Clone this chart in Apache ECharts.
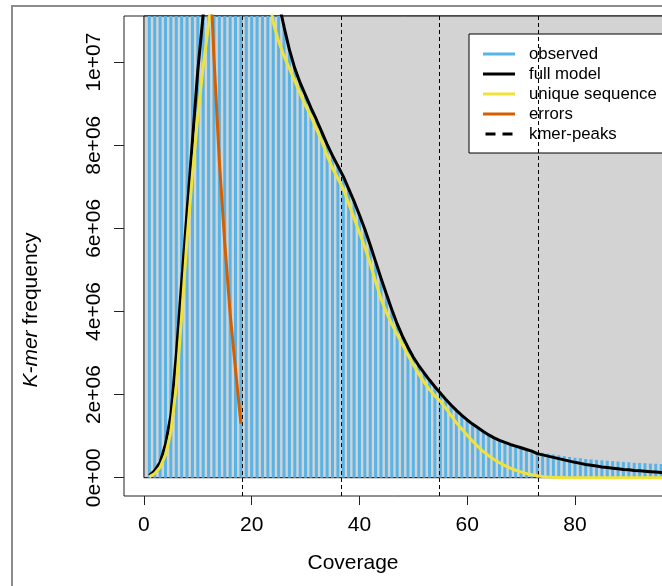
<!DOCTYPE html>
<html>
<head>
<meta charset="utf-8">
<script src="https://cdn.jsdelivr.net/npm/echarts@6/dist/echarts.min.js"></script>
<style>
  html, body { margin: 0; padding: 0; background: #fff; }
  #chart { width: 662px; height: 586px; }
</style>
</head>
<body>
<div id="chart"></div>
<script>
// k-mer histogram (millions of k-mers per coverage 1..100)
var observed = [
  95, 52, 38, 31, 27, 25, 23.5, 22.5, 21.5, 20.5,
  19.5, 19, 18.6, 18, 17.6, 17.4, 17.3, 17.3, 17, 16.3,
  15.4, 14.3, 13.2, 12.3, 11.5, 10.9, 10.32, 9.86, 9.5, 9.2,
  8.9, 8.6, 8.33, 8.03, 7.76, 7.5, 7.24, 6.96, 6.64, 6.33,
  5.97, 5.6, 5.21, 4.8, 4.43, 4.04, 3.71, 3.4, 3.15, 2.9,
  2.71, 2.52, 2.34, 2.19, 2.05, 1.89, 1.76, 1.62, 1.5, 1.39,
  1.3, 1.2, 1.12, 1.04, 0.97, 0.91, 0.86, 0.81, 0.77, 0.73,
  0.69, 0.66, 0.63, 0.6, 0.58, 0.56, 0.54, 0.52, 0.5, 0.48,
  0.47, 0.45, 0.44, 0.43, 0.42, 0.41, 0.4, 0.39, 0.38, 0.37,
  0.36, 0.355, 0.35, 0.34, 0.335, 0.33, 0.32, 0.315, 0.31, 0.3
];
var fullModel = [
  0.05, 0.17, 0.37, 0.8, 1.5, 2.95, 4.7, 6.4, 8.1, 9.8,
  11.15, 12.5, 13.8, 14.9, 15.8, 16.4, 16.8, 17, 16.8, 16.2,
  15.3, 14.2, 13.1, 12.2, 11.45, 10.85, 10.3, 9.85, 9.5, 9.2,
  8.9, 8.62, 8.32, 8.02, 7.75, 7.5, 7.25, 6.95, 6.65, 6.32,
  5.98, 5.6, 5.2, 4.8, 4.42, 4.05, 3.7, 3.4, 3.14, 2.9,
  2.7, 2.52, 2.35, 2.19, 2.04, 1.89, 1.75, 1.62, 1.5, 1.39,
  1.29, 1.2, 1.11, 1.03, 0.96, 0.9, 0.85, 0.8, 0.76, 0.72,
  0.68, 0.64, 0.58, 0.55, 0.52, 0.49, 0.46, 0.43, 0.4, 0.37,
  0.345, 0.32, 0.3, 0.28, 0.26, 0.245, 0.23, 0.215, 0.2, 0.19,
  0.175, 0.165, 0.155, 0.145, 0.135, 0.125, 0.118, 0.11, 0.104, 0.098
];
var uniqueSeq = [
  0.02, 0.1, 0.25, 0.55, 1.1, 2.2, 3.9, 5.75, 7.3, 8.7,
  9.9, 10.9, 12, 13.1, 14.1, 14.9, 15.4, 15.6, 15.4, 14.8,
  13.9, 12.8, 11.75, 10.95, 10.5, 10.15, 9.85, 9.55, 9.25, 8.95,
  8.7, 8.4, 8.1, 7.75, 7.45, 7.2, 6.95, 6.6, 6.25, 5.9,
  5.55, 5.15, 4.72, 4.3, 3.98, 3.7, 3.45, 3.2, 2.95, 2.72,
  2.5, 2.3, 2.12, 1.97, 1.84, 1.68, 1.5, 1.32, 1.17, 1.02,
  0.88, 0.75, 0.63, 0.53, 0.44, 0.36, 0.29, 0.23, 0.18, 0.14,
  0.1, 0.07, 0.045, 0.028, 0.017, 0.01, 0.006, 0.003, 0.001, 0,
  0, 0, 0, 0, 0, 0, 0, 0, 0, 0,
  0, 0, 0, 0, 0, 0, 0, 0, 0, 0
];
var errors = [
  160, 110, 80, 62, 50, 41, 34, 28.5, 24, 20,
  16.3, 13.1, 10.1, 7.6, 5.65, 3.95, 2.6, 1.3
];
var kmerPeaks = [18.3, 36.6, 54.9, 73.2];

var xTicks = [0, 20, 40, 60, 80, 100];
var yTicks = [0, 2e6, 4e6, 6e6, 8e6, 1e7];
var yTickLabels = ['0e+00', '2e+06', '4e+06', '6e+06', '8e+06', '1e+07'];

var FONT = "'Liberation Sans', Arial, Helvetica, sans-serif";
var M = 1e6;

function pairs(arr) {
  return arr.map(function (v, i) { return [i + 1, v * M]; });
}

var rectTop = Math.max.apply(null, observed) * M * 1.1;
var rectRight = observed.length * 1.1;

var chart = echarts.init(document.getElementById('chart'), null, { renderer: 'canvas' });

chart.setOption({
  animation: false,
  backgroundColor: '#fff',
  grid: {
    left: 124, top: 16, right: -20.7, bottom: 90,
    show: true, borderColor: '#222', borderWidth: 1,
    backgroundColor: 'transparent',
    outerBoundsMode: 'none'
  },
  xAxis: {
    type: 'value', min: -3.7, max: 100,
    axisLine: { show: false, onZero: false },
    splitLine: { show: false },
    axisTick: { show: true, length: 9, lineStyle: { color: '#222', width: 1 }, customValues: xTicks },
    axisLabel: { customValues: xTicks, margin: 19, fontSize: 21, color: '#000', fontFamily: FONT }
  },
  yAxis: {
    type: 'value', min: -0.44e6, max: 11.11e6,
    axisLine: { show: false, onZero: false },
    splitLine: { show: false },
    axisTick: { show: true, length: 10, lineStyle: { color: '#222', width: 1 }, customValues: yTicks },
    axisLabel: {
      customValues: yTicks, rotate: 90, margin: 19, fontSize: 21, color: '#000', fontFamily: FONT,
      formatter: function (v) {
        var i = yTicks.indexOf(v);
        return i >= 0 ? yTickLabels[i] : '';
      }
    }
  },
  legend: {
    orient: 'vertical', left: 469, top: 34,
    backgroundColor: '#fff', borderColor: '#000', borderWidth: 1, borderRadius: 0,
    padding: [10, 70, 9, 14],
    itemWidth: 32, itemHeight: 3, itemGap: 0,
    selectedMode: false,
    textStyle: { fontSize: 16.8, lineHeight: 20, color: '#000', fontFamily: FONT, padding: [0, 0, 0, 9] },
    data: [
      { name: 'observed', icon: 'rect' },
      { name: 'full model', icon: 'rect' },
      { name: 'unique sequence', icon: 'rect' },
      { name: 'errors', icon: 'rect' },
      { name: 'kmer-peaks', icon: 'path://M0,0h10v3h-10zM17,0h10v3h-10z' }
    ]
  },
  graphic: [
    { type: 'rect', silent: true, z: 100,
      shape: { x: 12, y: 6, width: 720, height: 640 },
      style: { fill: 'none', stroke: '#8c8c8c', lineWidth: 2 } },
    { type: 'text', silent: true, x: 31, y: 310, rotation: Math.PI / 2,
      style: {
        text: '{i|K-mer} frequency', fontSize: 21, fontFamily: FONT, fill: '#000',
        align: 'center', verticalAlign: 'middle',
        rich: { i: { fontStyle: 'italic', fontSize: 21, fontFamily: FONT, fill: '#000' } }
      } },
    { type: 'text', silent: true, x: 353, y: 563,
      style: { text: 'Coverage', fontSize: 21, fontFamily: FONT, fill: '#000',
        align: 'center', verticalAlign: 'middle' } }
  ],
  series: [
    {
      name: 'background', type: 'custom', z: 1, silent: true,
      data: [[0, 0, rectRight, rectTop]],
      renderItem: function (params, api) {
        var p0 = api.coord([api.value(0), api.value(1)]);
        var p1 = api.coord([api.value(2), api.value(3)]);
        var shape = echarts.graphic.clipRectByRect(
          { x: p0[0], y: p1[1], width: p1[0] - p0[0], height: p0[1] - p1[1] },
          { x: params.coordSys.x, y: params.coordSys.y, width: params.coordSys.width, height: params.coordSys.height }
        );
        if (!shape) return;
        return { type: 'rect', shape: shape, style: { fill: '#d3d3d3', stroke: '#000', lineWidth: 1 } };
      }
    },
    {
      name: 'observed', type: 'bar', z: 2, barWidth: 3, clip: true, silent: true,
      itemStyle: { color: '#56B4E9' },
      data: pairs(observed)
    },
    {
      name: 'kmer-peaks', type: 'line', z: 3, data: [], silent: true,
      itemStyle: { color: '#000' }, lineStyle: { color: '#000' },
      markLine: {
        silent: true, symbol: ['none', 'none'], animation: false,
        label: { show: false },
        lineStyle: { color: '#000', width: 1, type: [4, 3] },
        emphasis: { disabled: true },
        data: kmerPeaks.map(function (v) { return { xAxis: v }; })
      }
    },
    {
      name: 'full model', type: 'line', z: 4, showSymbol: false, symbol: 'none', clip: true, silent: true,
      itemStyle: { color: '#000' }, lineStyle: { color: '#000', width: 3 },
      data: pairs(fullModel)
    },
    {
      name: 'unique sequence', type: 'line', z: 5, showSymbol: false, symbol: 'none', clip: true, silent: true,
      itemStyle: { color: '#EFE33A' }, lineStyle: { color: '#EFE33A', width: 3 },
      data: pairs(uniqueSeq)
    },
    {
      name: 'errors', type: 'line', z: 6, showSymbol: false, symbol: 'none', clip: true, silent: true,
      itemStyle: { color: '#D55E00' }, lineStyle: { color: '#D55E00', width: 3 },
      data: pairs(errors)
    }
  ]
});
</script>
</body>
</html>
